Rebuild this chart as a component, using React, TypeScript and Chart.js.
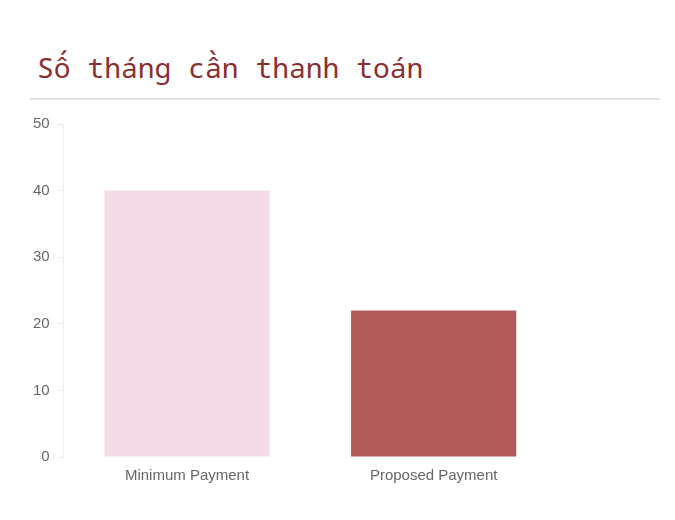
import { useEffect, useRef } from "react";
import { Chart, registerables } from "chart.js";

Chart.register(...registerables);

const title = "Số tháng cần thanh toán".normalize("NFC");
const categories = ["Minimum Payment", "Proposed Payment"];
const months = [40, 22];
const barColors = ["#f5dbe8", "#b35b5a"];
const yTicks = [0, 10, 20, 30, 40, 50];

export default function App() {
  const chartRef = useRef<HTMLCanvasElement>(null);
  const chartInstance = useRef<Chart | null>(null);

  useEffect(() => {
    if (!chartRef.current) return;
    if (chartInstance.current) chartInstance.current.destroy();

    chartInstance.current = new Chart(chartRef.current, {
      type: "bar",
      data: {
        labels: categories,
        datasets: [
          {
            data: months,
            backgroundColor: barColors,
            borderWidth: 0,
            categoryPercentage: 1,
            barPercentage: 0.67,
          },
        ],
      },
      options: {
        animation: false,
        responsive: true,
        maintainAspectRatio: false,
        layout: { padding: { top: 0, right: 98, bottom: 0, left: 0 } },
        plugins: {
          legend: { display: false },
          tooltip: { enabled: false },
        },
        scales: {
          x: {
            grid: { display: false, drawTicks: false },
            border: { display: false },
            ticks: {
              color: "#666",
              font: { family: "'Liberation Sans', Arial, sans-serif", size: 15 },
              padding: 10,
            },
          },
          y: {
            min: yTicks[0],
            max: yTicks[yTicks.length - 1],
            afterBuildTicks: (axis) => {
              axis.ticks = yTicks.map((v) => ({ value: v }));
            },
            grid: {
              drawOnChartArea: false,
              color: "#eeeeee",
              tickLength: 6,
            },
            border: { display: true, color: "#eeeeee" },
            ticks: {
              color: "#666",
              font: { family: "'Liberation Sans', Arial, sans-serif", size: 15 },
              padding: 8,
            },
          },
        },
      },
    });

    return () => {
      if (chartInstance.current) {
        chartInstance.current.destroy();
        chartInstance.current = null;
      }
    };
  }, []);

  return (
    <div style={{ position: "relative", width: 659, height: 504 }}>
      <div
        style={{
          position: "absolute",
          left: 29,
          top: 40,
          fontFamily: "'Noto Sans Mono', 'Liberation Mono', monospace",
          fontSize: 28,
          color: "#8b2e30",
          whiteSpace: "nowrap",
        }}
      >
        {title}
      </div>
      <div
        style={{
          position: "absolute",
          left: 22,
          top: 90,
          width: 630,
          height: 2,
          background: "#e0e0e0",
        }}
      />
      <div style={{ position: "absolute", left: 17, top: 99, width: 630, height: 388 }}>
        <canvas ref={chartRef} />
      </div>
    </div>
  );
}
